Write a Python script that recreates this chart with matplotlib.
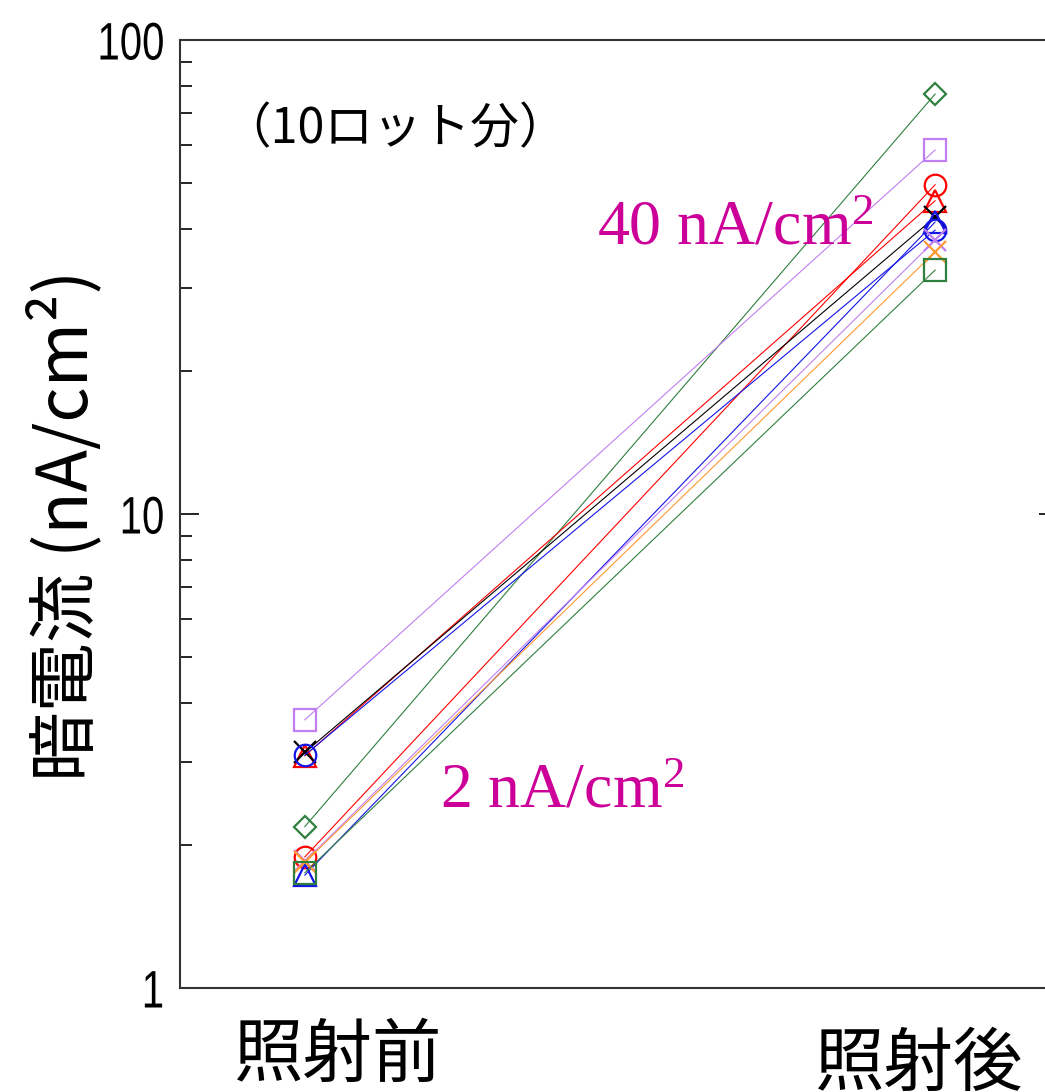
import numpy as np
import matplotlib
matplotlib.use("Agg")
import matplotlib.pyplot as plt
from matplotlib.ticker import LogLocator, NullFormatter, FixedLocator, FixedFormatter
from matplotlib.patheffects import AbstractPathEffect
from matplotlib.transforms import Affine2D

# データ（10ロット分、照射前/照射後の暗電流 nA/cm2）
stages = ["照射前", "照射後"]
lot_colors = ["#2f7f3f", "#c07ff0", "#ff0000", "#ff0000", "#000000",
              "#1414e6", "#1414e6", "#c07ff0", "#ff9933", "#2f7f3f"]
lot_markers = ["D", "s", "o", "^", "x", "^", "o", "x", "x", "s"]
before_vals = [2.19, 3.68, 1.89, 3.09, 3.14, 1.73, 3.10, 1.85, 1.84, 1.75]
after_vals = [76.9, 58.6, 49.5, 45.8, 42.3, 41.3, 39.7, 37.8, 35.7, 32.7]
y_ticks = [1, 10, 100]
y_tick_labels = ["1", "10", "100"]


# 目盛ラベルを横方向に縮める（右端基準）
class Squeeze(AbstractPathEffect):
    def __init__(self, sx):
        super().__init__()
        self.sx = sx

    def draw_path(self, renderer, gc, tpath, affine, rgbFace=None):
        ext = tpath.transformed(affine).get_extents()
        x0 = ext.x1
        t = affine + Affine2D().translate(-x0, 0).scale(self.sx, 1).translate(x0, 0)
        renderer.draw_path(gc, tpath, t, rgbFace)


jp = ["Noto Sans CJK JP", "DejaVu Sans"]
plt.rcParams["mathtext.fontset"] = "custom"
plt.rcParams["mathtext.rm"] = "Liberation Serif"
plt.rcParams["mathtext.it"] = "Liberation Serif:italic"

fig = plt.figure(figsize=(10.45, 10.92), dpi=100)
ax = fig.add_axes([180 / 1045, 104 / 1092, 878 / 1045, 948 / 1092])

xs = np.arange(len(stages))
for c, m, b, a in zip(lot_colors, lot_markers, before_vals, after_vals):
    ms = 11.2 if m == "D" else 15.5
    ax.plot(xs, [b, a], color=c, lw=0.8, marker=m, ms=ms,
            mfc="none", mec=c, mew=1.6)

ax.set_yscale("log")
ax.set_ylim(1, 100)
ax.set_xlim(-0.198, 1.195)

ax.yaxis.set_major_locator(FixedLocator(y_ticks))
ax.yaxis.set_major_formatter(FixedFormatter(y_tick_labels))
ax.yaxis.set_minor_locator(LogLocator(base=10, subs=np.arange(2, 10)))
ax.yaxis.set_minor_formatter(NullFormatter())
ax.tick_params(axis="y", which="major", direction="in", length=14,
               width=1.2, right=True, pad=11, labelsize=38)
ax.tick_params(axis="y", which="minor", direction="in", length=8.5,
               width=1.2, right=True)
for lab in ax.get_yticklabels():
    lab.set_family(["Liberation Sans", "DejaVu Sans"])
    lab.set_path_effects([Squeeze(0.76)])
ax.set_xticks([])

for sp in ax.spines.values():
    sp.set_linewidth(1.5)
    sp.set_color("#333333")

# x方向のラベル
fig.text(337 / 1045, (1092 - 1056) / 1092, stages[0], family=jp,
         fontsize=50, ha="center", va="center")
fig.text(918 / 1045, (1092 - 1065) / 1092, stages[1], family=jp,
         fontsize=50, ha="center", va="center")

# y軸ラベル
fig.text(65 / 1045, (1092 - 525) / 1092, "暗電流 (nA/cm²)", family=jp,
         fontsize=50, rotation=90, ha="center", va="center")

ax.text(0.048, 0.905, "（10ロット分）", family=jp, fontsize=35,
        transform=ax.transAxes, ha="left", va="center")

magenta = "#cc0099"
ax.text(0.475, 0.784, "40 nA/cm$^2$", family="Liberation Serif",
        fontsize=46, color=magenta, transform=ax.transAxes,
        ha="left", va="baseline")
ax.text(0.296, 0.190, "2 nA/cm$^2$", family="Liberation Serif",
        fontsize=46, color=magenta, transform=ax.transAxes,
        ha="left", va="baseline")

fig.savefig("out.png", dpi=100)
